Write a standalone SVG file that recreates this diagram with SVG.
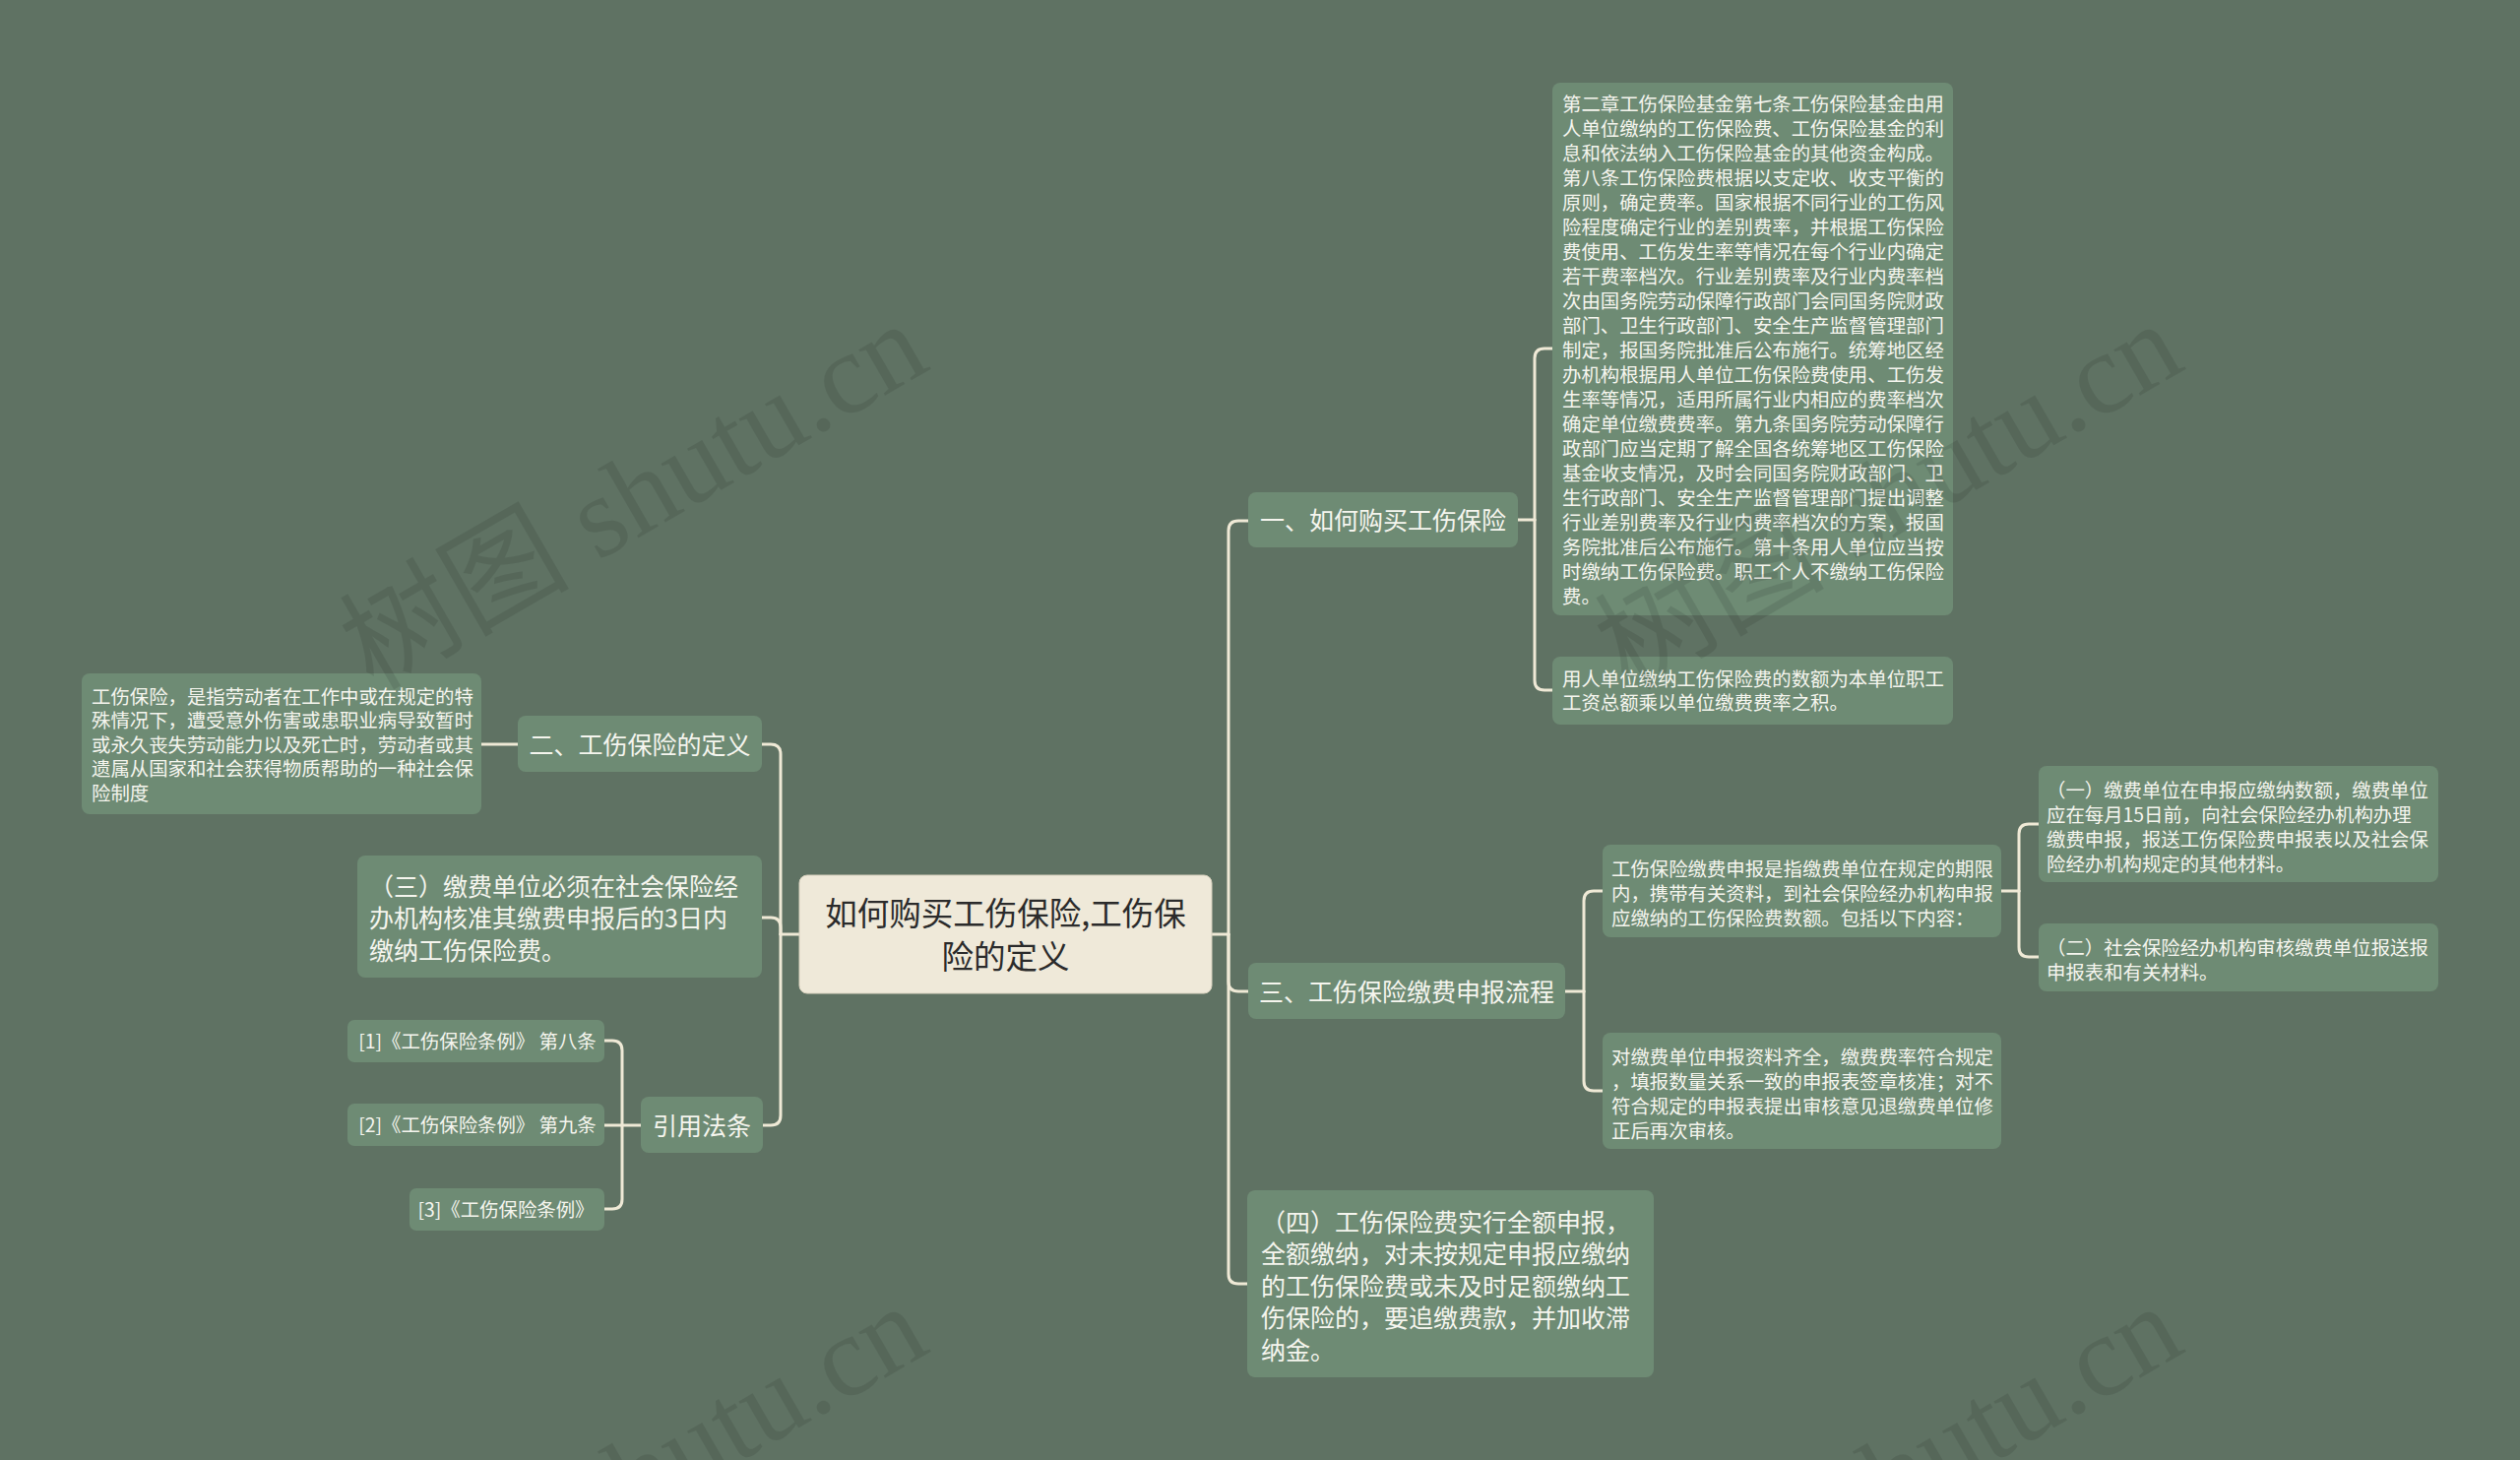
<svg xmlns="http://www.w3.org/2000/svg" width="2560" height="1483" viewBox="0 0 2560 1483">
<style>
.bg{fill:#5f7263}
.box{fill:#6e8b74}
.root{fill:#efe9d9;stroke:#d9d2bf;stroke-width:1}
.t{font-family:"Noto Sans CJK SC","Noto Sans",sans-serif;fill:#f5f5ee}
.s{font-size:19.4px}
.m{font-size:25px}
.r{font-size:32.5px;fill:#2b2b2b}
.c{text-anchor:middle}
.ln{fill:none;stroke:#efe9d6;stroke-width:3;stroke-linecap:round;stroke-linejoin:round}
.wm{font-family:"Liberation Serif","Noto Sans CJK SC",serif;font-size:117px;fill:#000;opacity:0.09}
</style>
<rect class="bg" x="0" y="0" width="2560" height="1483"/>

<g id="connectors" class="ln">
<path d="M1231,949 H1248"/>
<path d="M1248,949 V539 Q1248,529 1258,529 H1268"/>
<path d="M1248,949 V997 Q1248,1007 1258,1007 H1268"/>
<path d="M1248,949 V1294 Q1248,1304 1258,1304 H1267"/>
<path d="M1542,528 H1559"/>
<path d="M1559,528 V364 Q1559,354 1569,354 H1577"/>
<path d="M1559,528 V691 Q1559,701 1569,701 H1577"/>
<path d="M1590,1007 H1609"/>
<path d="M1609,1007 V915 Q1609,905 1619,905 H1628"/>
<path d="M1609,1007 V1098 Q1609,1108 1619,1108 H1628"/>
<path d="M2033,905 H2051"/>
<path d="M2051,905 V847 Q2051,837 2061,837 H2071"/>
<path d="M2051,905 V962 Q2051,972 2061,972 H2071"/>
<path d="M812,949 H793"/>
<path d="M793,949 V766 Q793,756 783,756 H774"/>
<path d="M793,949 V942 Q793,932 783,932 H774"/>
<path d="M793,949 V1133 Q793,1143 783,1143 H775"/>
<path d="M526,756 H489"/>
<path d="M651,1143 H614"/>
<path d="M632,1143 V1067 Q632,1057 622,1057 H614"/>
<path d="M632,1143 V1218 Q632,1228 622,1228 H614"/>
</g>

<g id="root">
<rect class="root" x="812" y="889" width="419" height="120" rx="8"/>
<text class="t r c" x="1021.5" y="940">如何购买工伤保险,工伤保</text>
<text class="t r c" x="1021.5" y="984">险的定义</text>
</g>

<g id="n1">
<rect class="box" x="1268" y="500" width="274" height="56" rx="8"/>
<text class="t m c" x="1405" y="537.5">一、如何购买工伤保险</text>
</g>

<g id="n1a">
<rect class="box" x="1577" y="84" width="407" height="541" rx="8"/>
<text class="t s" x="1587" y="113">第二章工伤保险基金第七条工伤保险基金由用</text>
<text class="t s" x="1587" y="138">人单位缴纳的工伤保险费、工伤保险基金的利</text>
<text class="t s" x="1587" y="163">息和依法纳入工伤保险基金的其他资金构成。</text>
<text class="t s" x="1587" y="188">第八条工伤保险费根据以支定收、收支平衡的</text>
<text class="t s" x="1587" y="213">原则，确定费率。国家根据不同行业的工伤风</text>
<text class="t s" x="1587" y="238">险程度确定行业的差别费率，并根据工伤保险</text>
<text class="t s" x="1587" y="263">费使用、工伤发生率等情况在每个行业内确定</text>
<text class="t s" x="1587" y="288">若干费率档次。行业差别费率及行业内费率档</text>
<text class="t s" x="1587" y="313">次由国务院劳动保障行政部门会同国务院财政</text>
<text class="t s" x="1587" y="338">部门、卫生行政部门、安全生产监督管理部门</text>
<text class="t s" x="1587" y="363">制定，报国务院批准后公布施行。统筹地区经</text>
<text class="t s" x="1587" y="388">办机构根据用人单位工伤保险费使用、工伤发</text>
<text class="t s" x="1587" y="413">生率等情况，适用所属行业内相应的费率档次</text>
<text class="t s" x="1587" y="438">确定单位缴费费率。第九条国务院劳动保障行</text>
<text class="t s" x="1587" y="463">政部门应当定期了解全国各统筹地区工伤保险</text>
<text class="t s" x="1587" y="488">基金收支情况，及时会同国务院财政部门、卫</text>
<text class="t s" x="1587" y="513">生行政部门、安全生产监督管理部门提出调整</text>
<text class="t s" x="1587" y="538">行业差别费率及行业内费率档次的方案，报国</text>
<text class="t s" x="1587" y="563">务院批准后公布施行。第十条用人单位应当按</text>
<text class="t s" x="1587" y="588">时缴纳工伤保险费。职工个人不缴纳工伤保险</text>
<text class="t s" x="1587" y="613">费。</text>
</g>

<g id="n1b">
<rect class="box" x="1577" y="667" width="407" height="69" rx="8"/>
<text class="t s" x="1587" y="696.5">用人单位缴纳工伤保险费的数额为本单位职工</text>
<text class="t s" x="1587" y="720.5">工资总额乘以单位缴费费率之积。</text>
</g>

<g id="n2">
<rect class="box" x="526" y="727" width="248" height="57" rx="8"/>
<text class="t m c" x="650" y="765.5">二、工伤保险的定义</text>
</g>

<g id="n2a">
<rect class="box" x="83" y="684" width="406" height="143" rx="8"/>
<text class="t s" x="93" y="714.5">工伤保险，是指劳动者在工作中或在规定的特</text>
<text class="t s" x="93" y="739">殊情况下，遭受意外伤害或患职业病导致暂时</text>
<text class="t s" x="93" y="763.5">或永久丧失劳动能力以及死亡时，劳动者或其</text>
<text class="t s" x="93" y="788">遗属从国家和社会获得物质帮助的一种社会保</text>
<text class="t s" x="93" y="812.5">险制度</text>
</g>

<g id="n5">
<rect class="box" x="363" y="869" width="411" height="124" rx="8"/>
<text class="t m" x="375" y="909.5">（三）缴费单位必须在社会保险经</text>
<text class="t m" x="375" y="942">办机构核准其缴费申报后的3日内</text>
<text class="t m" x="375" y="974.5">缴纳工伤保险费。</text>
</g>

<g id="n6">
<rect class="box" x="651" y="1114" width="124" height="57" rx="8"/>
<text class="t m c" x="713" y="1152.5">引用法条</text>
</g>

<g id="n6a">
<rect class="box" x="353" y="1036" width="261" height="43" rx="7"/>
<text class="t s c" x="485" y="1064.5">[1]《工伤保险条例》 第八条</text>
</g>
<g id="n6b">
<rect class="box" x="353" y="1121" width="261" height="43" rx="7"/>
<text class="t s c" x="485" y="1150">[2]《工伤保险条例》 第九条</text>
</g>
<g id="n6c">
<rect class="box" x="416" y="1207" width="198" height="43" rx="7"/>
<text class="t s c" x="514" y="1235.5">[3]《工伤保险条例》</text>
</g>

<g id="n3">
<rect class="box" x="1268" y="978" width="322" height="57" rx="8"/>
<text class="t m c" x="1429" y="1016.5">三、工伤保险缴费申报流程</text>
</g>

<g id="n3a">
<rect class="box" x="1628" y="858" width="405" height="94" rx="8"/>
<text class="t s" x="1637" y="889.5">工伤保险缴费申报是指缴费单位在规定的期限</text>
<text class="t s" x="1637" y="914.5">内，携带有关资料，到社会保险经办机构申报</text>
<text class="t s" x="1637" y="939.5">应缴纳的工伤保险费数额。包括以下内容：</text>
</g>

<g id="n3a1">
<rect class="box" x="2071" y="778" width="406" height="118" rx="8"/>
<text class="t s" x="2079" y="809.5">（一）缴费单位在申报应缴纳数额，缴费单位</text>
<text class="t s" x="2079" y="834.5">应在每月15日前，向社会保险经办机构办理</text>
<text class="t s" x="2079" y="859.5">缴费申报，报送工伤保险费申报表以及社会保</text>
<text class="t s" x="2079" y="884.5">险经办机构规定的其他材料。</text>
</g>

<g id="n3a2">
<rect class="box" x="2071" y="938" width="406" height="69" rx="8"/>
<text class="t s" x="2079" y="969.5">（二）社会保险经办机构审核缴费单位报送报</text>
<text class="t s" x="2079" y="994.5">申报表和有关材料。</text>
</g>

<g id="n3b">
<rect class="box" x="1628" y="1049" width="405" height="118" rx="8"/>
<text class="t s" x="1637" y="1080.5">对缴费单位申报资料齐全，缴费费率符合规定</text>
<text class="t s" x="1637" y="1105.5">，填报数量关系一致的申报表签章核准；对不</text>
<text class="t s" x="1637" y="1130.5">符合规定的申报表提出审核意见退缴费单位修</text>
<text class="t s" x="1637" y="1155.5">正后再次审核。</text>
</g>

<g id="n4">
<rect class="box" x="1267" y="1209" width="413" height="190" rx="8"/>
<text class="t m" x="1281" y="1250.5">（四）工伤保险费实行全额申报，</text>
<text class="t m" x="1281" y="1283">全额缴纳，对未按规定申报应缴纳</text>
<text class="t m" x="1281" y="1315.5">的工伤保险费或未及时足额缴纳工</text>
<text class="t m" x="1281" y="1348">伤保险的，要追缴费款，并加收滞</text>
<text class="t m" x="1281" y="1380.5">纳金。</text>
</g>

<g id="watermark">
<text class="wm" transform="translate(379,702) rotate(-30)">树图 shutu.cn</text>
<text class="wm" transform="translate(1654,702) rotate(-30)">树图 shutu.cn</text>
<text class="wm" transform="translate(379,1700) rotate(-30)">树图 shutu.cn</text>
<text class="wm" transform="translate(1654,1700) rotate(-30)">树图 shutu.cn</text>
</g>
</svg>
